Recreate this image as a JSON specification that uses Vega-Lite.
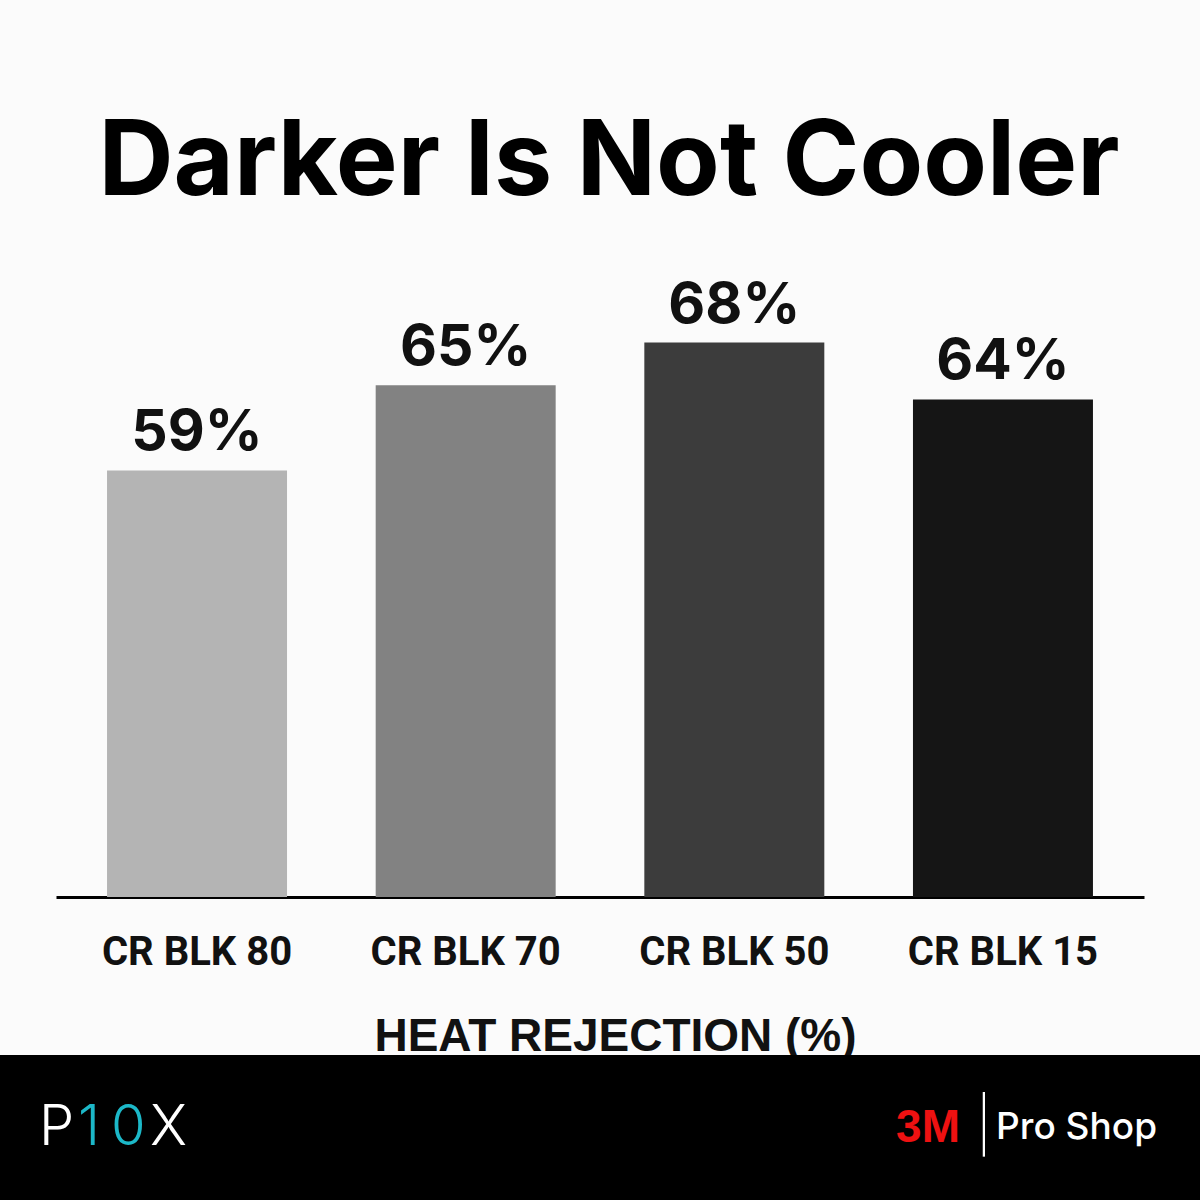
{
  "$schema": "https://vega.github.io/schema/vega-lite/v6.json",
  "background": "#fbfbfb",
  "padding": {"top": 112, "left": 0, "right": 0, "bottom": 0},
  "autosize": {"type": "pad"},
  "title": {"text": "Darker Is Not Cooler", "font": "Inter", "fontSize": 104, "fontWeight": 700, "color": "#000000", "anchor": "middle", "offset": 26, "dx": 9},
  "config": {"view": {"stroke": null}},
  "center": true,
  "bounds": "flush",
  "spacing": 158,
  "datasets": {
    "films": [
      {"film": "CR BLK 80", "heat_rejection": 59, "label": "59%"},
      {"film": "CR BLK 70", "heat_rejection": 65, "label": "65%"},
      {"film": "CR BLK 50", "heat_rejection": 68, "label": "68%"},
      {"film": "CR BLK 15", "heat_rejection": 64, "label": "64%"}
    ],
    "footer": [
      {"item": "P", "side": "left"},
      {"item": "1", "side": "left"},
      {"item": "0", "side": "left"},
      {"item": "X", "side": "left"},
      {"item": "3M", "side": "right"},
      {"item": "|", "side": "right"},
      {"item": "Pro Shop", "side": "right"}
    ]
  },
  "vconcat": [
    {
      "width": 1088,
      "height": 654,
      "data": {"name": "films"},
      "encoding": {
        "x": {
          "field": "film", "type": "nominal", "sort": null,
          "scale": {"paddingInner": 0.33, "paddingOuter": 0.19},
          "axis": {
            "title": "HEAT REJECTION (%)",
            "titleFont": "Liberation Sans", "titleFontSize": 46, "titleFontWeight": "bold", "titleColor": "#111111", "titlePadding": 42, "titleX": 559, "titleAlign": "center",
            "labelFont": "Roboto", "labelFontSize": 40, "labelFontWeight": "bold", "labelColor": "#111111", "labelPadding": 35, "labelAngle": 0, "labelLimit": 0,
            "ticks": false, "tickSize": 0, "domainColor": "#000000", "domainWidth": 3, "grid": false
          }
        },
        "y": {
          "field": "heat_rejection", "type": "quantitative",
          "scale": {"domain": [29, 75], "zero": false, "nice": false},
          "axis": null
        }
      },
      "layer": [
        {
          "mark": {"type": "bar"},
          "encoding": {
            "y2": {"datum": 29},
            "color": {
              "field": "film", "type": "nominal", "legend": null,
              "scale": {"domain": ["CR BLK 80", "CR BLK 70", "CR BLK 50", "CR BLK 15"], "range": ["#b4b4b4", "#828282", "#3c3c3c", "#151515"]}
            }
          }
        },
        {
          "mark": {"type": "text", "font": "Inter", "fontSize": 57, "fontWeight": 700, "color": "#111111", "baseline": "alphabetic", "dy": -20},
          "encoding": {"text": {"field": "label"}}
        }
      ]
    },
    {
      "width": 1200,
      "height": 145,
      "view": {"fill": "#000000", "stroke": null},
      "data": {"name": "footer"},
      "encoding": {
        "x": {"field": "side", "type": "nominal", "scale": {"type": "point", "domain": ["left", "right"], "padding": 0}, "axis": null}
      },
      "layer": [
        {
          "transform": [{"filter": "datum.item === 'P'"}],
          "mark": {"type": "text", "font": "Inter", "fontSize": 56, "fontWeight": 300, "color": "#ffffff", "align": "left", "baseline": "middle", "dx": 39},
          "encoding": {"text": {"field": "item"}}
        },
        {
          "transform": [{"filter": "datum.item === '1'"}],
          "mark": {"type": "text", "font": "Inter", "fontSize": 56, "fontWeight": 300, "color": "#1cb8c8", "align": "left", "baseline": "middle", "dx": 78},
          "encoding": {"text": {"field": "item"}}
        },
        {
          "transform": [{"filter": "datum.item === '0'"}],
          "mark": {"type": "text", "font": "Inter", "fontSize": 56, "fontWeight": 300, "color": "#1cb8c8", "align": "left", "baseline": "middle", "dx": 111},
          "encoding": {"text": {"field": "item"}}
        },
        {
          "transform": [{"filter": "datum.item === 'X'"}],
          "mark": {"type": "text", "font": "Inter", "fontSize": 56, "fontWeight": 300, "color": "#ffffff", "align": "left", "baseline": "middle", "dx": 150},
          "encoding": {"text": {"field": "item"}}
        },
        {
          "transform": [{"filter": "datum.item === 'Pro Shop'"}],
          "mark": {"type": "text", "font": "Inter", "fontSize": 37, "fontWeight": 500, "color": "#ffffff", "align": "right", "baseline": "middle", "dx": -43},
          "encoding": {"text": {"field": "item"}}
        },
        {
          "transform": [{"filter": "datum.item === '|'"}],
          "mark": {"type": "text", "font": "Inter", "fontSize": 54, "fontWeight": 200, "color": "#ffffff", "align": "center", "baseline": "middle", "dx": -216},
          "encoding": {"text": {"field": "item"}}
        },
        {
          "transform": [{"filter": "datum.item === '3M'"}],
          "mark": {"type": "text", "font": "Liberation Sans", "fontSize": 46, "fontWeight": 900, "color": "#ee1111", "align": "right", "baseline": "middle", "dx": -240},
          "encoding": {"text": {"field": "item"}}
        }
      ]
    }
  ]
}
